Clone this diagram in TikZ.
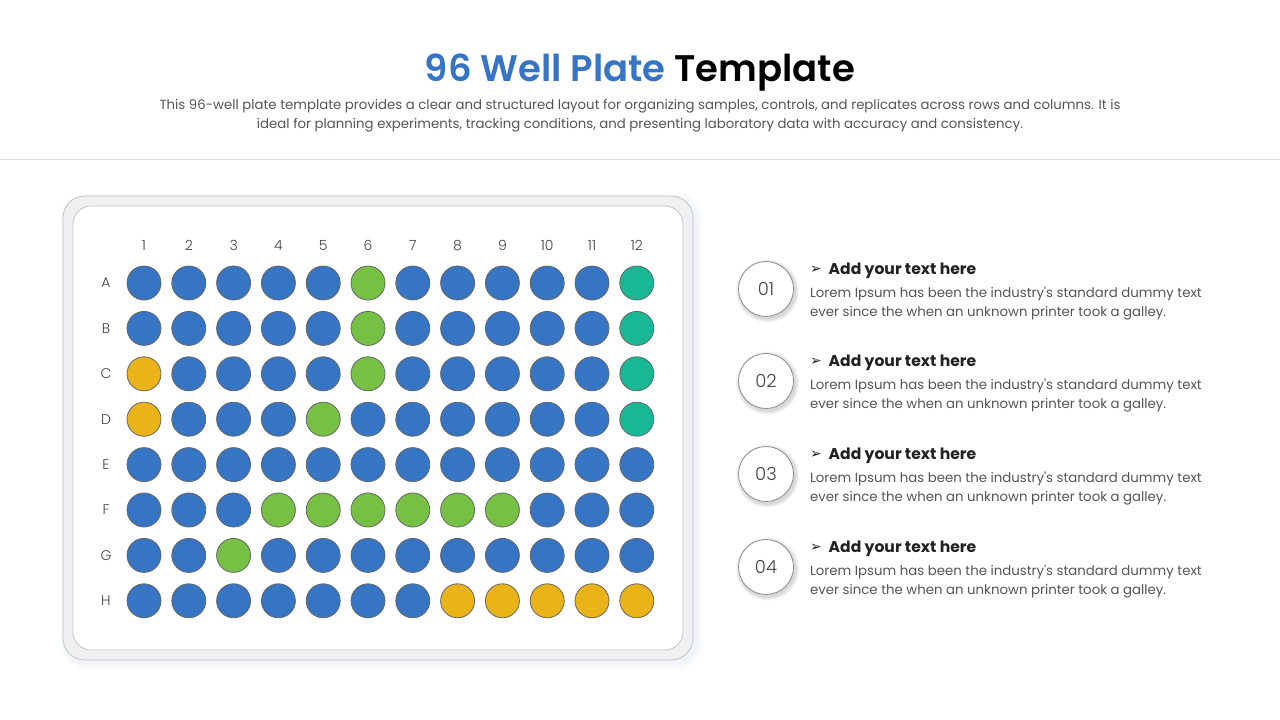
\documentclass[tikz,border=0pt]{standalone}
\usepackage{fontspec}
\setmainfont{Poppins}[Ligatures=TeXOff]
\newfontfamily\popsemi{Poppins}[UprightFont={* SemiBold}, Ligatures=TeXOff]
\newfontfamily\poplight{Poppins}[UprightFont={* Light}, Ligatures=TeXOff]
\newfontfamily\dejavu{DejaVu Sans}
\definecolor{tblue}{HTML}{3674C4}
\definecolor{wb}{HTML}{3674C4}
\definecolor{wg}{HTML}{76C043}
\definecolor{wt}{HTML}{17B893}
\definecolor{wy}{HTML}{EAB318}
\definecolor{txtgray}{HTML}{555555}
\definecolor{lblgray}{HTML}{444444}
\definecolor{rulegray}{HTML}{DDDDDD}
\definecolor{plateout}{HTML}{F0F0F2}
\definecolor{plateedge}{HTML}{C4C4C6}
\definecolor{shadowc}{HTML}{C8D2E6}
\tikzset{
  well/.style={circle, draw=black!60, line width=0.8pt, minimum size=34pt, inner sep=0pt},
  lbl/.style={font=\poplight\fontsize{14}{16}\selectfont, text=lblgray},
  numcircle/.style={circle, draw=black!45, line width=0.8pt, fill=white, minimum size=55pt, inner sep=0pt,
    font=\poplight\fontsize{18}{20}\selectfont, text=lblgray},
  headtxt/.style={font=\fontsize{15.6}{19}\selectfont\bfseries, text=black!87, anchor=west, inner sep=0pt},
  bodytxt/.style={font=\fontsize{13.3}{19}\selectfont, text=txtgray, anchor=west, align=left, inner sep=0pt},
  arrowtxt/.style={font=\dejavu\fontsize{14}{15}\selectfont, text=black!87, inner sep=0pt}
}
\begin{document}
\begin{tikzpicture}[x=1pt,y=-1pt]
\useasboundingbox (0,0) rectangle (1280,720);
\fill[white] (0,0) rectangle (1280,720);

% title
\node[font=\popsemi\fontsize{37}{42}\selectfont, text=black, inner sep=0pt, anchor=base] (title) at (640,81.5)
  {\textcolor{tblue}{96 Well Plate} Template};
\node[font=\fontsize{13.3}{19.3}\selectfont, text=txtgray, align=center, inner sep=0pt] (subtitle) at (640,116)
  {This 96-well plate template provides a clear and structured layout for organizing samples, controls, and replicates across rows and columns. It is\\
   ideal for planning experiments, tracking conditions, and presenting laboratory data with accuracy and consistency.};
\coordinate (rl) at (0,159);
\coordinate (rr) at (1280,159);
\draw[rulegray, line width=0.8pt] (rl) -- (rr);

% plate shadow (soft, bluish)
\foreach \k in {1,...,6}{
  \fill[shadowc, opacity=0.045, rounded corners=24pt] ({63+3-\k},{196+3-\k}) rectangle ({693+3+\k},{660+3+\k});
}
% plate
\draw[plateedge, fill=plateout, line width=0.8pt, rounded corners=22pt] (63,196) rectangle (693,660);
\draw[plateedge, fill=white, line width=0.8pt, rounded corners=18pt] (73,206) rectangle (683,650);

% column labels
\foreach \j in {1,...,12}{
  \node[lbl] (col-\j) at ({144+(\j-1)*44.8},245.5) {\j};
}
% wells
\foreach \lab/\cols [count=\i] in {
  A/{b,b,b,b,b,g,b,b,b,b,b,t},
  B/{b,b,b,b,b,g,b,b,b,b,b,t},
  C/{y,b,b,b,b,g,b,b,b,b,b,t},
  D/{y,b,b,b,g,b,b,b,b,b,b,t},
  E/{b,b,b,b,b,b,b,b,b,b,b,b},
  F/{b,b,b,g,g,g,g,g,g,b,b,b},
  G/{b,b,g,b,b,b,b,b,b,b,b,b},
  H/{b,b,b,b,b,b,b,y,y,y,y,y}}{
  \node[lbl] (row-\lab) at (106,{283+(\i-1)*45.4}) {\lab};
  \foreach \c [count=\j] in \cols {
    \node[well, fill=w\c] (w-\lab-\j) at ({144+(\j-1)*44.8},{283+(\i-1)*45.4}) {};
  }
}

% right items
\foreach \n/\y in {01/289,02/381,03/474,04/567}{
  \foreach \k in {1,...,4}{
    \fill[black, opacity=0.04] (767.5,\y+2) circle ({27.5+\k});
  }
  \node[numcircle] (num-\n) at (766,\y) {\n};
  \node[arrowtxt] (arr-\n) at (816,\y-19) {➢};
  \node[headtxt] (head-\n) at (828.5,\y-18.5) {Add your text here};
  \node[bodytxt] (body-\n) at (810,\y+14) {Lorem Ipsum has been the industry's standard dummy text\\ever since the when an unknown printer took a galley.};
}
\end{tikzpicture}
\end{document}
